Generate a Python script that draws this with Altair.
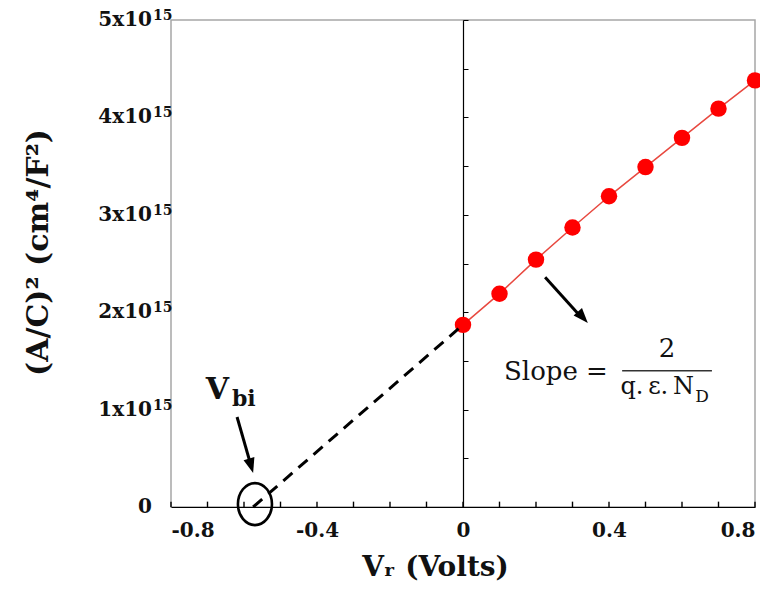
import altair as alt
import pandas as pd

# ---- data ----
v_r = [0.0, 0.1, 0.2, 0.3, 0.4, 0.5, 0.6, 0.7, 0.8]
ac2 = [1.87e15, 2.19e15, 2.54e15, 2.87e15, 3.19e15, 3.49e15, 3.79e15, 4.09e15, 4.38e15]
v_bi = -0.575

x_major = [-0.8, -0.4, 0.0, 0.4, 0.8]
x_minor = [-0.8, -0.7, -0.6, -0.5, -0.4, -0.3, -0.2, -0.1, 0.0, 0.1, 0.2, 0.3, 0.4, 0.5, 0.6, 0.7, 0.8]
y_major = [0, 1e15, 2e15, 3e15, 4e15, 5e15]
y_label_main = ["0", "1x10", "2x10", "3x10", "4x10", "5x10"]
y_label_sup = ["", "15", "15", "15", "15", "15"]
y_minor = [0, 0.5e15, 1e15, 1.5e15, 2e15, 2.5e15, 3e15, 3.5e15, 4e15, 4.5e15, 5e15]
x_tick_len = 0.055e15  # inward tick length, in y units

# annotation anchors (data coordinates)
arrow_x = [0.225, -0.619]
arrow_y = [2.36e15, 0.924e15]
arrow_x2 = [0.324, -0.581]
arrow_y2 = [1.948e15, 0.428e15]
tip_x = [0.342, -0.575]
tip_y = [1.89e15, 0.349e15]
tip_angle = [138, 164]

FONT = "DejaVu Serif"
INK = "#111111"
W, H = 584, 487

xs = alt.Scale(domain=[-0.8, 0.8], nice=False, zero=False)
ys = alt.Scale(domain=[0, 5e15], nice=False, zero=False)

df = pd.DataFrame({"v": v_r, "c": ac2})

axis_x_main = alt.Axis(
    orient="bottom", values=x_major, labelExpr="'' + datum.value",
    ticks=False, tickSize=0, labelPadding=13, domain=True, domainColor="black",
    domainWidth=1.2, labelFont=FONT, labelFontWeight="bold", labelFontSize=20,
    labelColor=INK, grid=False,
    title="V\u1d63 (Volts)", titleFont=FONT, titleFontWeight="bold", titleFontSize=28,
    titleColor=INK, titleX=264, titleY=68, titleBaseline="alphabetic", titleAlign="center",
)
axis_y_main = alt.Axis(
    orient="left", values=y_major, labels=False,
    ticks=False, tickSize=0, domain=False, grid=False,
    title="(A/C)\u00b2 (cm\u2074/F\u00b2)", titleFont=FONT, titleFontWeight="bold",
    titleFontSize=30, titleColor=INK, titleAngle=270, titleX=-124, titleY=232,
    titleBaseline="alphabetic", titleAlign="center",
)
axis_y_zero = alt.Axis(
    orient="right", offset=-(W / 2), values=y_minor, labels=False, ticks=True, tickSize=5,
    tickColor="black", tickWidth=1, domain=True, domainColor="black", domainWidth=1.2,
    title=None, grid=False,
)

line = alt.Chart(df).mark_line(color="#e8483f", strokeWidth=1.5).encode(
    x=alt.X("v:Q", scale=xs, axis=None),
    y=alt.Y("c:Q", scale=ys, axis=axis_y_zero),
)
points = alt.Chart(df).mark_circle(size=270, color="#ff0000", opacity=1).encode(
    x=alt.X("v:Q", scale=xs, axis=axis_x_main),
    y=alt.Y("c:Q", scale=ys, axis=axis_y_main),
)

# inward x ticks every 0.1 along the bottom axis
xt = pd.DataFrame({"v": x_minor, "y0": [0.0] * len(x_minor), "y1": [x_tick_len] * len(x_minor)})
xticks = alt.Chart(xt).mark_rule(color="black", strokeWidth=1.4, opacity=1).encode(
    x=alt.X("v:Q", scale=xs, axis=None),
    y=alt.Y("y0:Q", scale=ys, axis=None), y2="y1:Q",
)

# y tick labels with real superscripts
ylab = pd.DataFrame({"c": y_major, "m": y_label_main, "s": y_label_sup})
ylab_main = alt.Chart(ylab).mark_text(
    font=FONT, fontSize=20, fontWeight="bold", align="right", baseline="middle", color=INK
).encode(x=alt.value(-19), y=alt.Y("c:Q", scale=ys, axis=None), text="m:N")
ylab_sup = alt.Chart(ylab).mark_text(
    font=FONT, fontSize=14, fontWeight="bold", align="left", baseline="middle", color=INK, dy=-4
).encode(x=alt.value(-18), y=alt.Y("c:Q", scale=ys, axis=None), text="s:N")

ext = pd.DataFrame({"v": [v_bi, v_r[0]], "c": [0.0, ac2[0]]})
dashed = alt.Chart(ext).mark_line(color="black", strokeWidth=3, strokeDash=[12, 8]).encode(
    x=alt.X("v:Q", scale=xs, axis=None),
    y=alt.Y("c:Q", scale=ys, axis=None),
)

ellipse_path = "M-0.81,0A0.81,1,0,1,1,0.81,0A0.81,1,0,1,1,-0.81,0Z"
ell = alt.Chart(pd.DataFrame({"v": [v_bi + 0.005], "c": [0.03e15]})).mark_point(
    shape=ellipse_path, size=1764, filled=False, color="black", strokeWidth=2.6, opacity=1
).encode(
    x=alt.X("v:Q", scale=xs, axis=None),
    y=alt.Y("c:Q", scale=ys, axis=None),
)

arr = pd.DataFrame({"x": arrow_x, "y": arrow_y, "x2": arrow_x2, "y2": arrow_y2,
                    "tx": tip_x, "ty": tip_y, "a": tip_angle})
shafts = alt.Chart(arr).mark_rule(color="black", strokeWidth=3).encode(
    x=alt.X("x:Q", scale=xs, axis=None), y=alt.Y("y:Q", scale=ys, axis=None),
    x2="x2:Q", y2="y2:Q",
)
heads = alt.Chart(arr).mark_point(
    shape="M0,0L-0.75,2L0.75,2Z", size=225, filled=True, color="black", opacity=1
).encode(
    x=alt.X("tx:Q", scale=xs, axis=None), y=alt.Y("ty:Q", scale=ys, axis=None),
    angle=alt.Angle("a:Q", scale=None),
)


def label(txt, x, y, size, align="left", weight="normal"):
    return alt.Chart(pd.DataFrame({"x": [x], "y": [y], "t": [txt]})).mark_text(
        font=FONT, fontSize=size, fontWeight=weight, align=align,
        baseline="alphabetic", color=INK,
    ).encode(
        x=alt.X("x:Q", scale=xs, axis=None), y=alt.Y("y:Q", scale=ys, axis=None), text="t:N"
    )


frac = alt.Chart(pd.DataFrame({"x": [0.436], "x2": [0.682], "y": [1.40e15]})).mark_rule(
    color="#333333", strokeWidth=1.5
).encode(x=alt.X("x:Q", scale=xs, axis=None), x2="x2:Q", y=alt.Y("y:Q", scale=ys, axis=None))

texts = [
    label("V", -0.641, 1.11e15, 30, "right", "bold"),
    label("bi", -0.633, 1.04e15, 22, "left", "bold"),
    label("Slope =", 0.397, 1.304e15, 26, "right"),
    label("2", 0.559, 1.54e15, 26, "center"),
    label("q.\u2009\u03b5.\u2009N", 0.633, 1.16e15, 24, "right"),
    label("D", 0.636, 1.078e15, 17, "left"),
]

chart = alt.layer(
    line, points, ylab_main, ylab_sup, dashed, ell, shafts, heads, frac, *texts, xticks
).resolve_axis(x="independent", y="independent").properties(
    width=W, height=H,
    padding={"left": 163, "top": 12, "right": 5, "bottom": 76},
    autosize=alt.AutoSizeParams(type="none"),
    background="white",
).configure_view(stroke="#a6a6a6", strokeWidth=1.5)

chart.save("out.html", embed_options={"renderer": "svg", "actions": False})
